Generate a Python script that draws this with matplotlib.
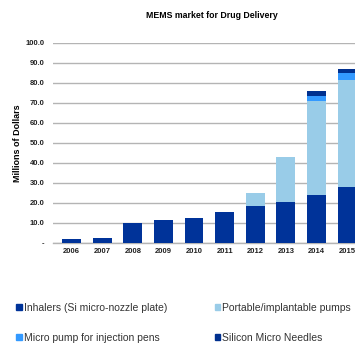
import matplotlib.pyplot as plt
import numpy as np
from matplotlib.patches import Patch

plt.rcParams['font.family'] = ['Liberation Sans', 'DejaVu Sans']

years = ['2006', '2007', '2008', '2009', '2010', '2011', '2012', '2013', '2014', '2015']
inhalers = [1.8, 2.3, 9.7, 11.2, 12.5, 15.2, 18.5, 20.5, 23.8, 27.7]
portable_pumps = [0, 0, 0, 0, 0, 0, 6.3, 22.2, 47.0, 53.6]
micro_pump_pens = [0, 0, 0, 0, 0, 0, 0, 0, 2.7, 3.7]
micro_needles = [0, 0, 0, 0, 0, 0, 0, 0, 2.5, 1.7]
y_ticks = [0, 10, 20, 30, 40, 50, 60, 70, 80, 90, 100]

dark = '#003399'
light = '#99cce8'
mid = '#3399ff'
top_dark = '#00308f'

fig = plt.figure(figsize=(3.55, 3.43), dpi=100)
ax = fig.add_axes([0.149, 0.2925, 0.851, 0.583])

x = np.arange(len(years))
w = 0.61
b1 = np.array(inhalers)
b2 = b1 + np.array(portable_pumps)
b3 = b2 + np.array(micro_pump_pens)
ax.bar(x, inhalers, w, color=dark, zorder=3)
ax.bar(x, portable_pumps, w, bottom=b1, color=light, zorder=3)
ax.bar(x, micro_pump_pens, w, bottom=b2, color=mid, zorder=3)
ax.bar(x, micro_needles, w, bottom=b3, color=top_dark, zorder=3)

ax.set_xlim(-0.61, 9.26)
ax.set_ylim(0, 100)
ax.set_xticks(x)
ax.set_xticklabels(years, fontsize=5.5, fontweight='bold', color='#222222')
ax.set_yticks(y_ticks)
ax.set_yticklabels(['-' if v == 0 else f'{v:.1f}' for v in y_ticks],
                   fontsize=5.5, fontweight='bold', color='#222222')
ax.tick_params(length=0, pad=4)
ax.tick_params(axis='y', pad=6)
ax.grid(axis='y', color='#b4b4b4', linewidth=1.0, zorder=0)
for side in ['left', 'right', 'top']:
    ax.spines[side].set_visible(False)
ax.spines['bottom'].set_color('#b4b4b4')
ax.spines['bottom'].set_linewidth(1.0)

fig.text(0.597, 0.955, 'MEMS market for Drug Delivery', ha='center', va='center',
         fontsize=6.3, fontweight='bold')
fig.text(0.048, 0.583, 'Millions of Dollars', ha='center', va='center',
         rotation=90, fontsize=6.5, fontweight='bold')

# legend filled column-wise, so order gives rows: inhalers/portable, pens/needles
handles = [Patch(color=dark, label='Inhalers (Si micro-nozzle plate)'),
           Patch(color=mid, label='Micro pump for injection pens'),
           Patch(color=light, label='Portable/implantable pumps'),
           Patch(color=top_dark, label='Silicon Micro Needles')]
fig.legend(handles=handles, ncol=2, loc='upper left', bbox_to_anchor=(0.02, 0.144),
           frameon=False, fontsize=7.5, handlelength=0.5, handleheight=0.5,
           handletextpad=0.25, columnspacing=4.5, labelspacing=1.9, labelcolor='#333333')

fig.savefig('out.png', dpi=100)
